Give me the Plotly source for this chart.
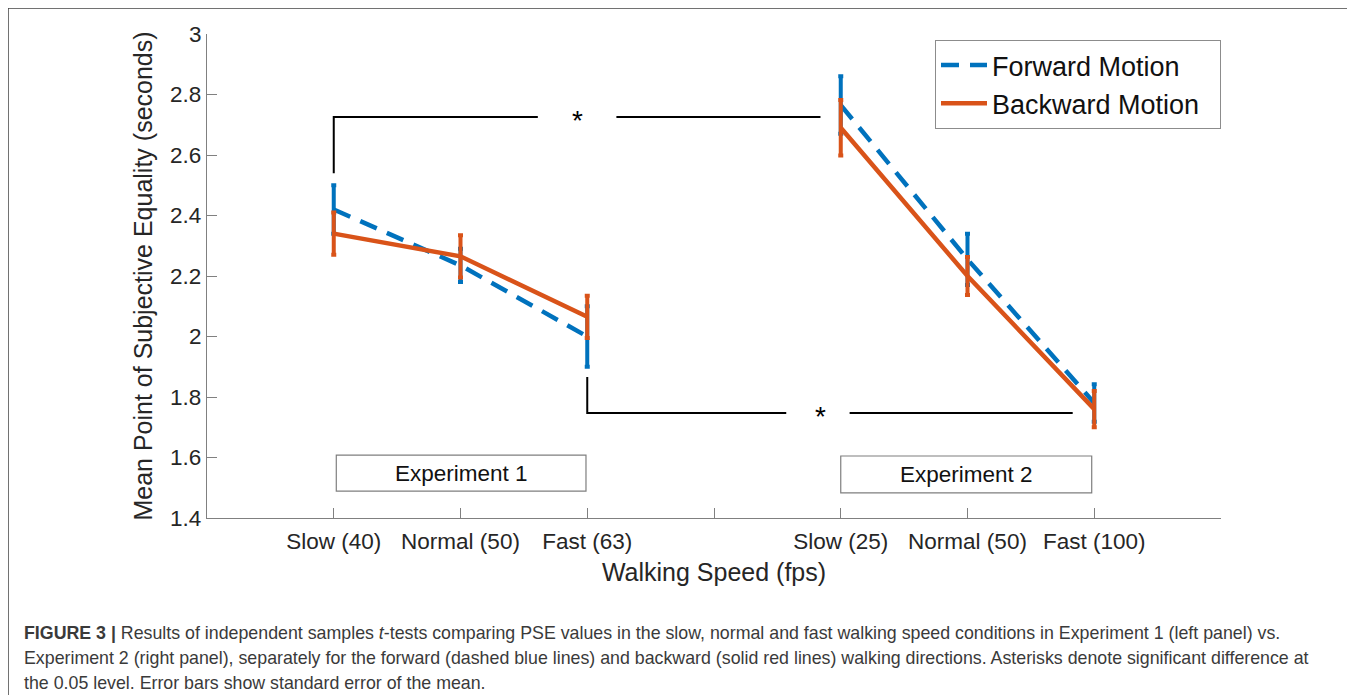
import plotly.graph_objects as go

# ---------------- data ----------------
x_pos = [1, 2, 3, 5, 6, 7]
tick_vals = [1, 2, 3, 4, 5, 6, 7, 8]
tick_text = ["Slow (40)", "Normal (50)", "Fast (63)", "", "Slow (25)", "Normal (50)", "Fast (100)", ""]

fwd_exp1 = [2.42, 2.235, 2.00]
fwd_exp1_se = [0.08, 0.055, 0.10]
fwd_exp2 = [2.765, 2.255, 1.78]
fwd_exp2_se = [0.095, 0.085, 0.062]

bwd_exp1 = [2.34, 2.265, 2.065]
bwd_exp1_se = [0.07, 0.07, 0.07]
bwd_exp2 = [2.69, 2.20, 1.76]
bwd_exp2_se = [0.092, 0.063, 0.06]

y_ticks = [1.4, 1.6, 1.8, 2.0, 2.2, 2.4, 2.6, 2.8, 3.0]
y_tick_text = ["1.4", "1.6", "1.8", "2", "2.2", "2.4", "2.6", "2.8", "3"]

series_names = ["Forward Motion", "Backward Motion\u00a0\u00a0"]

# significance brackets
top_br_x = [1, 1, 2.61]
top_br_y = [2.54, 2.726, 2.726]
top_br2_x = [3.23, 4.84]
top_br2_y = [2.726, 2.726]
top_star = (2.92, 2.715)

bot_br_x = [3, 3, 4.57]
bot_br_y = [1.866, 1.747, 1.747]
bot_br2_x = [5.07, 6.83]
bot_br2_y = [1.747, 1.747]
bot_star = (4.84, 1.735)

exp_boxes = [
    ("Experiment 1", 1.02, 2.99, 1.489, 1.608),
    ("Experiment 2", 5.0, 6.98, 1.483, 1.605),
]

BLUE = "#0072BD"
ORANGE = "#D95319"

fig = go.Figure()

def add_series(x, y, se, color, dash, name, showlegend):
    fig.add_trace(go.Scatter(
        x=x, y=y, mode="lines", name=name, showlegend=showlegend,
        legendgroup=name,
        line=dict(color=color, width=4.5, dash=dash),
        error_y=dict(type="data", array=se, visible=True, color=color,
                     thickness=4, width=2.5),
    ))

add_series(x_pos[:3], fwd_exp1, fwd_exp1_se, BLUE, "18px,11px", series_names[0], True)
add_series(x_pos[3:], fwd_exp2, fwd_exp2_se, BLUE, "18px,11px", series_names[0], False)
add_series(x_pos[:3], bwd_exp1, bwd_exp1_se, ORANGE, "solid", series_names[1], True)
add_series(x_pos[3:], bwd_exp2, bwd_exp2_se, ORANGE, "solid", series_names[1], False)

for bx, by in [(top_br_x, top_br_y), (top_br2_x, top_br2_y), (bot_br_x, bot_br_y), (bot_br2_x, bot_br2_y)]:
    fig.add_trace(go.Scatter(x=bx, y=by, mode="lines", showlegend=False,
                             line=dict(color="black", width=2), hoverinfo="skip"))

annotations = []
for (sx, sy) in [top_star, bot_star]:
    annotations.append(dict(x=sx, y=sy, xref="x", yref="y", text="*", showarrow=False,
                            font=dict(size=28, color="black", family="Liberation Sans"),
                            xanchor="center", yanchor="middle"))

shapes = []
for (label, x0, x1, y0, y1) in exp_boxes:
    shapes.append(dict(type="rect", xref="x", yref="y", x0=x0, x1=x1, y0=y0, y1=y1,
                       line=dict(color="#7f7f7f", width=1.2), fillcolor="white", layer="below"))
    annotations.append(dict(x=(x0 + x1) / 2, y=(y0 + y1) / 2, xref="x", yref="y", text=label,
                            showarrow=False, font=dict(size=22.5, color="#111111", family="Liberation Sans"),
                            xanchor="center", yanchor="middle"))

# page offset (browser body margin) compensation
OFF = 8
L, R, T, B = 207 - OFF, 1221 - OFF, 34 - OFF, 518 - OFF
W, H = R - L, B - T
def px_x(p):
    return (p - OFF - L) / W
def px_y(p):
    return (B - (p - OFF)) / H

shapes.append(dict(type="rect", xref="paper", yref="paper",
                   x0=px_x(8), x1=px_x(1375), y0=px_y(720), y1=px_y(8),
                   line=dict(color="#444444", width=1.5), fillcolor="rgba(0,0,0,0)", layer="below"))

caption_lines = [
    "<b>FIGURE 3 |</b> Results of independent samples <i>t</i>-tests comparing PSE values in the slow, normal and fast walking speed conditions in Experiment 1 (left panel) vs.",
    "Experiment 2 (right panel), separately for the forward (dashed blue lines) and backward (solid red lines) walking directions. Asterisks denote significant difference at",
    "the 0.05 level. Error bars show standard error of the mean.",
]
cap_y = [633, 658, 683]
for line, py in zip(caption_lines, cap_y):
    annotations.append(dict(x=px_x(22), y=px_y(py), xref="paper", yref="paper", text=line,
                            showarrow=False, xanchor="left", yanchor="middle",
                            font=dict(size=17.8, color="#3a3a3a", family="Liberation Sans")))

fig.update_layout(
    width=1355, height=695,
    margin=dict(l=L, r=1355 - R, t=T, b=695 - B),
    paper_bgcolor="white", plot_bgcolor="white",
    font=dict(family="Liberation Sans", color="#262626"),
    showlegend=True,
    legend=dict(x=px_x(935), y=px_y(40), xanchor="left", yanchor="top",
                bordercolor="#8c8c8c", borderwidth=1, bgcolor="white",
                font=dict(size=27, color="#111111"),
                itemwidth=46, tracegroupgap=0),
    shapes=shapes,
    annotations=annotations,
    xaxis=dict(range=[0, 8], tickmode="array", tickvals=tick_vals, ticktext=tick_text,
               ticks="inside", ticklen=10, tickcolor="#808080", tickwidth=1,
               showline=True, linecolor="#808080", linewidth=1.2, showgrid=False, zeroline=False,
               tickfont=dict(size=22.5, color="#262626"),
               title=dict(text="Walking Speed (fps)", font=dict(size=25, color="#262626"), standoff=10)),
    yaxis=dict(range=[1.4, 3.0], tickmode="array", tickvals=y_ticks, ticktext=y_tick_text,
               ticks="inside", ticklen=10, tickcolor="#808080", tickwidth=1,
               showline=True, linecolor="#808080", linewidth=1.2, showgrid=False, zeroline=False,
               tickfont=dict(size=22.5, color="#262626"),
               title=dict(text="Mean Point of Subjective Equality (seconds)", font=dict(size=25, color="#262626"), standoff=10)),
)
fig.update_xaxes(ticklabelstandoff=3)

fig.write_html("out.html")
